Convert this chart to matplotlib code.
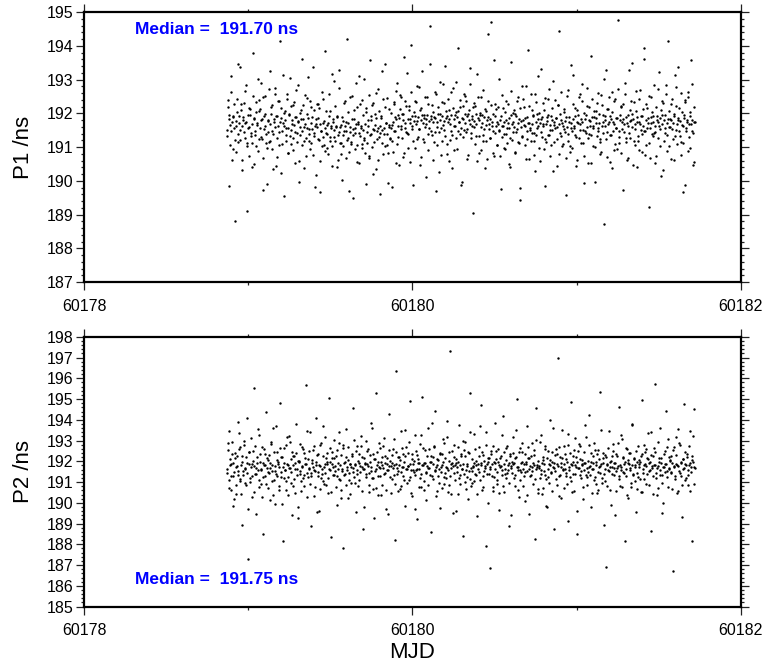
import matplotlib
matplotlib.use("Agg")
import matplotlib.pyplot as plt
from matplotlib.ticker import MultipleLocator, FormatStrFormatter

plt.rcParams['font.family'] = ['Liberation Sans', 'DejaVu Sans']

# ---------------- data ----------------
mjd = [
    60178.870, 60178.875, 60178.880, 60178.885, 60178.890, 60178.895, 60178.900, 60178.905, 60178.910, 60178.915,
    60178.920, 60178.925, 60178.930, 60178.935, 60178.940, 60178.945, 60178.950, 60178.955, 60178.960, 60178.965,
    60178.970, 60178.975, 60178.980, 60178.985, 60178.990, 60178.995, 60179.000, 60179.005, 60179.010, 60179.015,
    60179.020, 60179.025, 60179.030, 60179.035, 60179.040, 60179.045, 60179.050, 60179.055, 60179.060, 60179.065,
    60179.070, 60179.075, 60179.080, 60179.085, 60179.090, 60179.095, 60179.100, 60179.105, 60179.110, 60179.115,
    60179.120, 60179.125, 60179.130, 60179.135, 60179.140, 60179.145, 60179.150, 60179.155, 60179.160, 60179.165,
    60179.170, 60179.175, 60179.180, 60179.185, 60179.190, 60179.195, 60179.200, 60179.205, 60179.210, 60179.215,
    60179.220, 60179.225, 60179.230, 60179.235, 60179.240, 60179.245, 60179.250, 60179.255, 60179.260, 60179.265,
    60179.270, 60179.275, 60179.280, 60179.285, 60179.290, 60179.295, 60179.300, 60179.305, 60179.310, 60179.315,
    60179.320, 60179.325, 60179.330, 60179.335, 60179.340, 60179.345, 60179.350, 60179.355, 60179.360, 60179.365,
    60179.370, 60179.375, 60179.380, 60179.385, 60179.390, 60179.395, 60179.400, 60179.405, 60179.410, 60179.415,
    60179.420, 60179.425, 60179.430, 60179.435, 60179.440, 60179.445, 60179.450, 60179.455, 60179.460, 60179.465,
    60179.470, 60179.475, 60179.480, 60179.485, 60179.490, 60179.495, 60179.500, 60179.505, 60179.510, 60179.515,
    60179.520, 60179.525, 60179.530, 60179.535, 60179.540, 60179.545, 60179.550, 60179.555, 60179.560, 60179.565,
    60179.570, 60179.575, 60179.580, 60179.585, 60179.590, 60179.595, 60179.600, 60179.605, 60179.610, 60179.615,
    60179.620, 60179.625, 60179.630, 60179.635, 60179.640, 60179.645, 60179.650, 60179.655, 60179.660, 60179.665,
    60179.670, 60179.675, 60179.680, 60179.685, 60179.690, 60179.695, 60179.700, 60179.705, 60179.710, 60179.715,
    60179.720, 60179.725, 60179.730, 60179.735, 60179.740, 60179.745, 60179.750, 60179.755, 60179.760, 60179.765,
    60179.770, 60179.775, 60179.780, 60179.785, 60179.790, 60179.795, 60179.800, 60179.805, 60179.810, 60179.815,
    60179.820, 60179.825, 60179.830, 60179.835, 60179.840, 60179.845, 60179.850, 60179.855, 60179.860, 60179.865,
    60179.870, 60179.875, 60179.880, 60179.885, 60179.890, 60179.895, 60179.900, 60179.905, 60179.910, 60179.915,
    60179.920, 60179.925, 60179.930, 60179.935, 60179.940, 60179.945, 60179.950, 60179.955, 60179.960, 60179.965,
    60179.970, 60179.975, 60179.980, 60179.985, 60179.990, 60179.995, 60180.000, 60180.005, 60180.010, 60180.015,
    60180.020, 60180.025, 60180.030, 60180.035, 60180.040, 60180.045, 60180.050, 60180.055, 60180.060, 60180.065,
    60180.070, 60180.075, 60180.080, 60180.085, 60180.090, 60180.095, 60180.100, 60180.105, 60180.110, 60180.115,
    60180.120, 60180.125, 60180.130, 60180.135, 60180.140, 60180.145, 60180.150, 60180.155, 60180.160, 60180.165,
    60180.170, 60180.175, 60180.180, 60180.185, 60180.190, 60180.195, 60180.200, 60180.205, 60180.210, 60180.215,
    60180.220, 60180.225, 60180.230, 60180.235, 60180.240, 60180.245, 60180.250, 60180.255, 60180.260, 60180.265,
    60180.270, 60180.275, 60180.280, 60180.285, 60180.290, 60180.295, 60180.300, 60180.305, 60180.310, 60180.315,
    60180.320, 60180.325, 60180.330, 60180.335, 60180.340, 60180.345, 60180.350, 60180.355, 60180.360, 60180.365,
    60180.370, 60180.375, 60180.380, 60180.385, 60180.390, 60180.395, 60180.400, 60180.405, 60180.410, 60180.415,
    60180.420, 60180.425, 60180.430, 60180.435, 60180.440, 60180.445, 60180.450, 60180.455, 60180.460, 60180.465,
    60180.470, 60180.475, 60180.480, 60180.485, 60180.490, 60180.495, 60180.500, 60180.505, 60180.510, 60180.515,
    60180.520, 60180.525, 60180.530, 60180.535, 60180.540, 60180.545, 60180.550, 60180.555, 60180.560, 60180.565,
    60180.570, 60180.575, 60180.580, 60180.585, 60180.590, 60180.595, 60180.600, 60180.605, 60180.610, 60180.615,
    60180.620, 60180.625, 60180.630, 60180.635, 60180.640, 60180.645, 60180.650, 60180.655, 60180.660, 60180.665,
    60180.670, 60180.675, 60180.680, 60180.685, 60180.690, 60180.695, 60180.700, 60180.705, 60180.710, 60180.715,
    60180.720, 60180.725, 60180.730, 60180.735, 60180.740, 60180.745, 60180.750, 60180.755, 60180.760, 60180.765,
    60180.770, 60180.775, 60180.780, 60180.785, 60180.790, 60180.795, 60180.800, 60180.805, 60180.810, 60180.815,
    60180.820, 60180.825, 60180.830, 60180.835, 60180.840, 60180.845, 60180.850, 60180.855, 60180.860, 60180.865,
    60180.870, 60180.875, 60180.880, 60180.885, 60180.890, 60180.895, 60180.900, 60180.905, 60180.910, 60180.915,
    60180.920, 60180.925, 60180.930, 60180.935, 60180.940, 60180.945, 60180.950, 60180.955, 60180.960, 60180.965,
    60180.970, 60180.975, 60180.980, 60180.985, 60180.990, 60180.995, 60181.000, 60181.005, 60181.010, 60181.015,
    60181.020, 60181.025, 60181.030, 60181.035, 60181.040, 60181.045, 60181.050, 60181.055, 60181.060, 60181.065,
    60181.070, 60181.075, 60181.080, 60181.085, 60181.090, 60181.095, 60181.100, 60181.105, 60181.110, 60181.115,
    60181.120, 60181.125, 60181.130, 60181.135, 60181.140, 60181.145, 60181.150, 60181.155, 60181.160, 60181.165,
    60181.170, 60181.175, 60181.180, 60181.185, 60181.190, 60181.195, 60181.200, 60181.205, 60181.210, 60181.215,
    60181.220, 60181.225, 60181.230, 60181.235, 60181.240, 60181.245, 60181.250, 60181.255, 60181.260, 60181.265,
    60181.270, 60181.275, 60181.280, 60181.285, 60181.290, 60181.295, 60181.300, 60181.305, 60181.310, 60181.315,
    60181.320, 60181.325, 60181.330, 60181.335, 60181.340, 60181.345, 60181.350, 60181.355, 60181.360, 60181.365,
    60181.370, 60181.375, 60181.380, 60181.385, 60181.390, 60181.395, 60181.400, 60181.405, 60181.410, 60181.415,
    60181.420, 60181.425, 60181.430, 60181.435, 60181.440, 60181.445, 60181.450, 60181.455, 60181.460, 60181.465,
    60181.470, 60181.475, 60181.480, 60181.485, 60181.490, 60181.495, 60181.500, 60181.505, 60181.510, 60181.515,
    60181.520, 60181.525, 60181.530, 60181.535, 60181.540, 60181.545, 60181.550, 60181.555, 60181.560, 60181.565,
    60181.570, 60181.575, 60181.580, 60181.585, 60181.590, 60181.595, 60181.600, 60181.605, 60181.610, 60181.615,
    60181.620, 60181.625, 60181.630, 60181.635, 60181.640, 60181.645, 60181.650, 60181.655, 60181.660, 60181.665,
    60181.670, 60181.675, 60181.680, 60181.685, 60181.690, 60181.695, 60181.700, 60181.705, 60181.710, 60181.715,
    60181.720,
    60178.8725, 60178.8775, 60178.8825, 60178.8875, 60178.8925, 60178.8975, 60178.9025, 60178.9075, 60178.9125, 60178.9175,
    60178.9225, 60178.9275, 60178.9325, 60178.9375, 60178.9425, 60178.9475, 60178.9525, 60178.9575, 60178.9625, 60178.9675,
    60178.9725, 60178.9775, 60178.9825, 60178.9875, 60178.9925, 60178.9975, 60179.0025, 60179.0075, 60179.0125, 60179.0175,
    60179.0225, 60179.0275, 60179.0325, 60179.0375, 60179.0425, 60179.0475, 60179.0525, 60179.0575, 60179.0625, 60179.0675,
    60179.0725, 60179.0775, 60179.0825, 60179.0875, 60179.0925, 60179.0975, 60179.1025, 60179.1075, 60179.1125, 60179.1175,
    60179.1225, 60179.1275, 60179.1325, 60179.1375, 60179.1425, 60179.1475, 60179.1525, 60179.1575, 60179.1625, 60179.1675,
    60179.1725, 60179.1775, 60179.1825, 60179.1875, 60179.1925, 60179.1975, 60179.2025, 60179.2075, 60179.2125, 60179.2175,
    60179.2225, 60179.2275, 60179.2325, 60179.2375, 60179.2425, 60179.2475, 60179.2525, 60179.2575, 60179.2625, 60179.2675,
    60179.2725, 60179.2775, 60179.2825, 60179.2875, 60179.2925, 60179.2975, 60179.3025, 60179.3075, 60179.3125, 60179.3175,
    60179.3225, 60179.3275, 60179.3325, 60179.3375, 60179.3425, 60179.3475, 60179.3525, 60179.3575, 60179.3625, 60179.3675,
    60179.3725, 60179.3775, 60179.3825, 60179.3875, 60179.3925, 60179.3975, 60179.4025, 60179.4075, 60179.4125, 60179.4175,
    60179.4225, 60179.4275, 60179.4325, 60179.4375, 60179.4425, 60179.4475, 60179.4525, 60179.4575, 60179.4625, 60179.4675,
    60179.4725, 60179.4775, 60179.4825, 60179.4875, 60179.4925, 60179.4975, 60179.5025, 60179.5075, 60179.5125, 60179.5175,
    60179.5225, 60179.5275, 60179.5325, 60179.5375, 60179.5425, 60179.5475, 60179.5525, 60179.5575, 60179.5625, 60179.5675,
    60179.5725, 60179.5775, 60179.5825, 60179.5875, 60179.5925, 60179.5975, 60179.6025, 60179.6075, 60179.6125, 60179.6175,
    60179.6225, 60179.6275, 60179.6325, 60179.6375, 60179.6425, 60179.6475, 60179.6525, 60179.6575, 60179.6625, 60179.6675,
    60179.6725, 60179.6775, 60179.6825, 60179.6875, 60179.6925, 60179.6975, 60179.7025, 60179.7075, 60179.7125, 60179.7175,
    60179.7225, 60179.7275, 60179.7325, 60179.7375, 60179.7425, 60179.7475, 60179.7525, 60179.7575, 60179.7625, 60179.7675,
    60179.7725, 60179.7775, 60179.7825, 60179.7875, 60179.7925, 60179.7975, 60179.8025, 60179.8075, 60179.8125, 60179.8175,
    60179.8225, 60179.8275, 60179.8325, 60179.8375, 60179.8425, 60179.8475, 60179.8525, 60179.8575, 60179.8625, 60179.8675,
    60179.8725, 60179.8775, 60179.8825, 60179.8875, 60179.8925, 60179.8975, 60179.9025, 60179.9075, 60179.9125, 60179.9175,
    60179.9225, 60179.9275, 60179.9325, 60179.9375, 60179.9425, 60179.9475, 60179.9525, 60179.9575, 60179.9625, 60179.9675,
    60179.9725, 60179.9775, 60179.9825, 60179.9875, 60179.9925, 60179.9975, 60180.0025, 60180.0075, 60180.0125, 60180.0175,
    60180.0225, 60180.0275, 60180.0325, 60180.0375, 60180.0425, 60180.0475, 60180.0525, 60180.0575, 60180.0625, 60180.0675,
    60180.0725, 60180.0775, 60180.0825, 60180.0875, 60180.0925, 60180.0975, 60180.1025, 60180.1075, 60180.1125, 60180.1175,
    60180.1225, 60180.1275, 60180.1325, 60180.1375, 60180.1425, 60180.1475, 60180.1525, 60180.1575, 60180.1625, 60180.1675,
    60180.1725, 60180.1775, 60180.1825, 60180.1875, 60180.1925, 60180.1975, 60180.2025, 60180.2075, 60180.2125, 60180.2175,
    60180.2225, 60180.2275, 60180.2325, 60180.2375, 60180.2425, 60180.2475, 60180.2525, 60180.2575, 60180.2625, 60180.2675,
    60180.2725, 60180.2775, 60180.2825, 60180.2875, 60180.2925, 60180.2975, 60180.3025, 60180.3075, 60180.3125, 60180.3175,
    60180.3225, 60180.3275, 60180.3325, 60180.3375, 60180.3425, 60180.3475, 60180.3525, 60180.3575, 60180.3625, 60180.3675,
    60180.3725, 60180.3775, 60180.3825, 60180.3875, 60180.3925, 60180.3975, 60180.4025, 60180.4075, 60180.4125, 60180.4175,
    60180.4225, 60180.4275, 60180.4325, 60180.4375, 60180.4425, 60180.4475, 60180.4525, 60180.4575, 60180.4625, 60180.4675,
    60180.4725, 60180.4775, 60180.4825, 60180.4875, 60180.4925, 60180.4975, 60180.5025, 60180.5075, 60180.5125, 60180.5175,
    60180.5225, 60180.5275, 60180.5325, 60180.5375, 60180.5425, 60180.5475, 60180.5525, 60180.5575, 60180.5625, 60180.5675,
    60180.5725, 60180.5775, 60180.5825, 60180.5875, 60180.5925, 60180.5975, 60180.6025, 60180.6075, 60180.6125, 60180.6175,
    60180.6225, 60180.6275, 60180.6325, 60180.6375, 60180.6425, 60180.6475, 60180.6525, 60180.6575, 60180.6625, 60180.6675,
    60180.6725, 60180.6775, 60180.6825, 60180.6875, 60180.6925, 60180.6975, 60180.7025, 60180.7075, 60180.7125, 60180.7175,
    60180.7225, 60180.7275, 60180.7325, 60180.7375, 60180.7425, 60180.7475, 60180.7525, 60180.7575, 60180.7625, 60180.7675,
    60180.7725, 60180.7775, 60180.7825, 60180.7875, 60180.7925, 60180.7975, 60180.8025, 60180.8075, 60180.8125, 60180.8175,
    60180.8225, 60180.8275, 60180.8325, 60180.8375, 60180.8425, 60180.8475, 60180.8525, 60180.8575, 60180.8625, 60180.8675,
    60180.8725, 60180.8775, 60180.8825, 60180.8875, 60180.8925, 60180.8975, 60180.9025, 60180.9075, 60180.9125, 60180.9175,
    60180.9225, 60180.9275, 60180.9325, 60180.9375, 60180.9425, 60180.9475, 60180.9525, 60180.9575, 60180.9625, 60180.9675,
    60180.9725, 60180.9775, 60180.9825, 60180.9875, 60180.9925, 60180.9975, 60181.0025, 60181.0075, 60181.0125, 60181.0175,
    60181.0225, 60181.0275, 60181.0325, 60181.0375, 60181.0425, 60181.0475, 60181.0525, 60181.0575, 60181.0625, 60181.0675,
    60181.0725, 60181.0775, 60181.0825, 60181.0875, 60181.0925, 60181.0975, 60181.1025, 60181.1075, 60181.1125, 60181.1175,
    60181.1225, 60181.1275, 60181.1325, 60181.1375, 60181.1425, 60181.1475, 60181.1525, 60181.1575, 60181.1625, 60181.1675,
    60181.1725, 60181.1775, 60181.1825, 60181.1875, 60181.1925, 60181.1975, 60181.2025, 60181.2075, 60181.2125, 60181.2175,
    60181.2225, 60181.2275, 60181.2325, 60181.2375, 60181.2425, 60181.2475, 60181.2525, 60181.2575, 60181.2625, 60181.2675,
    60181.2725, 60181.2775, 60181.2825, 60181.2875, 60181.2925, 60181.2975, 60181.3025, 60181.3075, 60181.3125, 60181.3175,
    60181.3225, 60181.3275, 60181.3325, 60181.3375, 60181.3425, 60181.3475, 60181.3525, 60181.3575, 60181.3625, 60181.3675,
    60181.3725, 60181.3775, 60181.3825, 60181.3875, 60181.3925, 60181.3975, 60181.4025, 60181.4075, 60181.4125, 60181.4175,
    60181.4225, 60181.4275, 60181.4325, 60181.4375, 60181.4425, 60181.4475, 60181.4525, 60181.4575, 60181.4625, 60181.4675,
    60181.4725, 60181.4775, 60181.4825, 60181.4875, 60181.4925, 60181.4975, 60181.5025, 60181.5075, 60181.5125, 60181.5175,
    60181.5225, 60181.5275, 60181.5325, 60181.5375, 60181.5425, 60181.5475, 60181.5525, 60181.5575, 60181.5625, 60181.5675,
    60181.5725, 60181.5775, 60181.5825, 60181.5875, 60181.5925, 60181.5975, 60181.6025, 60181.6075, 60181.6125, 60181.6175,
    60181.6225, 60181.6275, 60181.6325, 60181.6375, 60181.6425, 60181.6475, 60181.6525, 60181.6575, 60181.6625, 60181.6675,
    60181.6725, 60181.6775, 60181.6825, 60181.6875, 60181.6925, 60181.6975, 60181.7025, 60181.7075, 60181.7125, 60181.7175,
]

p1_ns = [
    191.52, 192.41, 191.83, 189.84, 191.66, 193.12, 191.74, 190.95, 191.91, 191.58,
    188.82, 191.77, 192.05, 191.39, 193.46, 191.70, 191.21, 192.28, 191.64, 190.62,
    191.88, 191.45, 192.66, 191.73, 191.12, 189.12, 191.95, 191.60, 192.14, 191.33,
    190.41, 191.69, 193.78, 191.84, 191.47, 192.33, 191.02, 191.71, 190.88, 192.07,
    191.56, 192.91, 191.79, 191.25, 189.73, 191.92, 191.63, 192.52, 191.38, 190.97,
    191.81, 191.14, 193.24, 191.67, 192.19, 191.48, 190.36, 191.75, 192.74, 191.59,
    191.93, 190.71, 191.62, 192.37, 191.44, 194.13, 191.86, 191.09, 191.70, 192.02,
    189.55, 191.79, 191.35, 192.58, 191.58, 190.84, 191.97, 193.05, 191.52, 191.81,
    191.27, 192.24, 191.66, 190.52, 191.90, 191.43, 192.85, 191.74, 189.96, 191.61,
    192.11, 191.48, 193.62, 191.83, 191.19, 191.68, 190.73, 192.45, 191.57, 191.86,
    191.40, 190.93, 191.71, 192.19, 191.55, 193.37, 191.34, 191.63, 190.18, 191.82,
    191.59, 192.27, 191.22, 191.68, 189.67, 191.48, 192.64, 191.71, 191.05, 191.57,
    193.84, 191.41, 191.66, 190.79, 191.93, 191.30, 192.08, 191.62, 190.44, 191.74,
    191.52, 192.96, 191.17, 191.64, 191.88, 190.61, 191.45, 193.29, 191.59, 191.11,
    190.02, 191.78, 191.36, 192.31, 191.63, 191.49, 194.21, 191.27, 191.70, 190.86,
    191.61, 191.08, 192.52, 191.55, 189.48, 191.83, 191.42, 191.67, 192.18, 190.57,
    191.74, 193.11, 191.33, 191.58, 190.97, 192.39, 191.52, 191.20, 191.69, 189.91,
    192.03, 191.46, 191.62, 190.69, 193.57, 191.79, 191.38, 192.26, 191.55, 191.14,
    191.66, 190.35, 191.85, 191.47, 192.71, 191.29, 189.61, 191.63, 191.92, 191.51,
    192.44, 191.58, 191.02, 193.45, 191.71, 191.39, 190.83, 191.66, 192.12, 191.24,
    191.57, 189.82, 191.74, 192.35, 191.49, 191.88, 190.54, 192.89, 191.63, 191.31,
    191.86, 192.53, 191.64, 191.97, 190.71, 191.79, 193.68, 191.58, 192.21, 191.42,
    190.96, 191.83, 192.09, 191.71, 194.02, 191.55, 191.92, 189.88, 191.76, 192.38,
    191.67, 191.24, 192.81, 191.89, 191.53, 190.47, 191.81, 192.15, 193.26, 191.70,
    191.95, 191.61, 190.12, 191.84, 192.47, 191.38, 191.77, 194.58, 191.91, 191.49,
    192.26, 191.73, 191.16, 192.64, 191.86, 189.69, 191.59, 191.98, 191.44, 192.93,
    191.80, 190.78, 191.93, 191.65, 192.32, 191.51, 193.41, 191.87, 191.08, 191.74,
    190.58, 192.11, 191.69, 191.96, 191.37, 192.76, 191.82, 190.91, 191.63, 192.04,
    191.89, 191.47, 193.94, 191.75, 192.19, 191.58, 189.97, 191.84, 191.29, 192.57,
    191.71, 192.38, 191.55, 190.66, 191.99, 191.81, 192.87, 191.43, 191.93, 191.62,
    189.04, 191.77, 192.22, 191.68, 191.34, 193.18, 191.85, 190.82, 191.96, 191.59,
    192.49, 191.72, 191.18, 191.88, 190.39, 191.66, 192.07, 191.80, 194.36, 191.53,
    191.84, 191.26, 194.72, 191.74, 191.48, 190.74, 191.91, 192.29, 191.63, 191.07,
    191.69, 193.03, 191.52, 191.81, 189.76, 191.64, 192.15, 191.39, 191.75, 190.93,
    192.36, 191.58, 191.72, 190.51, 191.86, 191.27, 193.52, 191.68, 191.45, 192.02,
    191.61, 190.84, 191.93, 191.54, 192.47, 191.71, 191.12, 189.43, 191.77, 192.81,
    191.33, 191.79, 192.19, 191.62, 190.66, 191.88, 191.49, 193.87, 191.70, 191.58,
    192.58, 191.41, 191.67, 191.95, 191.19, 190.28, 191.74, 192.33, 191.56, 191.83,
    190.97, 191.72, 193.31, 191.46, 191.89, 191.63, 192.11, 191.24, 189.86, 191.69,
    191.78, 192.44, 191.35, 191.66, 190.73, 191.92, 191.51, 192.97, 191.74, 191.15,
    191.57, 191.86, 190.44, 192.26, 191.69, 194.45, 191.43, 191.81, 191.02, 191.64,
    192.05, 191.53, 191.77, 189.58, 191.60, 192.68, 191.38, 191.90, 190.86, 191.72,
    191.47, 193.14, 191.84, 191.58, 192.17, 191.29, 190.61, 191.75, 191.96, 192.49,
    191.68, 191.11, 191.73, 192.87, 191.52, 189.95, 191.83, 191.41, 192.23, 191.61,
    190.52, 191.79, 191.64, 191.35, 193.71, 191.88, 191.57, 192.08, 190.99, 191.72,
    191.86, 192.31, 191.49, 191.70, 191.23, 190.79, 192.55, 191.63, 191.94, 188.71,
    191.62, 191.81, 193.28, 191.44, 192.14, 191.75, 190.57, 191.91, 191.36, 192.62,
    191.74, 190.92, 191.67, 192.43, 191.58, 191.87, 194.78, 191.49, 191.13, 191.79,
    192.22, 191.55, 189.74, 191.83, 191.68, 192.91, 191.27, 191.72, 190.68, 191.95,
    191.41, 191.76, 192.37, 191.60, 193.49, 191.84, 191.18, 191.69, 192.06, 190.41,
    191.88, 191.33, 191.74, 192.69, 191.52, 190.86, 191.93, 191.64, 193.95, 191.47,
    191.07, 191.81, 192.17, 191.70, 189.23, 191.56, 192.48, 191.89, 191.38, 191.73,
    192.84, 191.62, 191.45, 190.74, 191.92, 191.75, 193.22, 191.53, 191.86, 192.11,
    191.67, 190.31, 191.79, 191.96, 191.42, 192.58, 191.71, 194.15, 191.59, 191.02,
    191.83, 192.27, 191.55, 191.72, 190.63, 191.91, 191.34, 192.79, 191.68, 191.80,
    193.36, 191.49, 191.77, 191.15, 192.03, 191.63, 189.66, 191.87, 192.41, 191.57,
    191.74, 190.88, 192.63, 191.69, 191.93, 193.58, 191.48, 191.81, 190.48, 192.18,
    191.73,
    191.34, 192.18, 191.96, 191.07, 192.63, 191.49, 190.61, 191.88, 192.27, 191.21,
    191.63, 190.87, 192.44, 191.15, 191.92, 193.38, 191.52, 192.09, 190.33, 191.79,
    192.31, 191.26, 191.71, 192.85, 191.03, 191.58, 192.16, 190.74, 191.94, 191.42,
    191.11, 192.52, 190.49, 191.86, 191.37, 192.04, 191.65, 193.01, 191.23, 192.39,
    192.12, 191.31, 191.84, 190.68, 192.47, 191.55, 191.98, 191.13, 189.92, 191.76,
    191.45, 192.71, 191.17, 191.99, 190.95, 192.26, 191.39, 191.82, 192.58, 190.43,
    191.28, 191.91, 192.36, 191.06, 191.73, 190.22, 192.15, 191.47, 193.14, 191.64,
    192.07, 191.19, 191.57, 192.42, 190.82, 191.95, 191.33, 192.21, 191.09, 191.69,
    190.91, 192.33, 191.44, 191.88, 192.69, 191.14, 191.76, 190.58, 192.02, 191.36,
    191.83, 191.05, 192.24, 190.37, 191.61, 192.54, 191.27, 191.97, 193.08, 191.18,
    191.54, 192.38, 191.12, 191.89, 190.76, 192.11, 191.43, 189.83, 191.68, 192.29,
    191.23, 191.86, 192.15, 190.59, 191.47, 191.04, 192.43, 191.31, 191.77, 190.88,
    192.06, 191.38, 190.97, 191.71, 192.57, 191.19, 191.56, 193.16, 191.02, 191.83,
    191.29, 192.22, 191.61, 190.41, 191.93, 191.35, 192.74, 191.12, 191.66, 190.79,
    191.88, 191.03, 191.49, 192.36, 190.69, 191.74, 191.22, 192.03, 189.71, 191.45,
    192.48, 191.16, 191.82, 191.37, 192.11, 190.93, 191.58, 192.89, 191.07, 191.69,
    191.42, 190.52, 192.27, 191.63, 191.09, 191.95, 193.03, 191.28, 190.84, 192.17,
    191.13, 191.79, 190.74, 192.54, 191.36, 191.91, 191.01, 190.19, 192.32, 191.52,
    191.97, 192.61, 191.24, 191.58, 190.63, 192.08, 191.43, 191.85, 191.11, 193.24,
    190.81, 191.39, 192.19, 191.72, 191.05, 192.46, 189.94, 191.61, 191.27, 192.01,
    191.66, 191.18, 190.86, 192.29, 191.49, 191.83, 192.67, 191.09, 191.94, 190.47,
    192.14, 191.53, 192.47, 191.28, 191.99, 190.83, 191.71, 192.36, 191.46, 193.19,
    191.39, 192.21, 191.84, 190.56, 192.62, 191.62, 191.17, 192.05, 191.93, 190.98,
    192.34, 191.77, 191.31, 192.78, 191.54, 192.11, 190.72, 191.96, 191.25, 191.87,
    191.14, 192.49, 191.68, 191.95, 190.91, 192.27, 191.58, 193.46, 191.82, 191.36,
    192.03, 190.63, 191.89, 191.44, 192.56, 191.73, 191.07, 192.19, 190.25, 191.97,
    191.56, 192.35, 191.19, 192.87, 191.78, 191.34, 192.08, 190.81, 191.91, 192.44,
    191.83, 191.22, 192.64, 191.49, 190.39, 192.16, 191.64, 191.95, 192.93, 191.28,
    190.94, 192.07, 191.75, 191.38, 192.41, 189.88, 191.86, 192.23, 191.51, 191.99,
    192.52, 191.44, 191.91, 190.77, 192.09, 191.67, 193.33, 191.26, 191.84, 192.19,
    191.61, 192.31, 191.08, 191.97, 190.58, 192.48, 191.79, 191.32, 192.01, 190.92,
    191.94, 191.37, 192.69, 191.55, 192.14, 191.18, 190.66, 191.88, 192.37, 191.69,
    191.26, 192.25, 191.63, 190.84, 191.99, 193.57, 191.42, 192.12, 191.74, 191.05,
    192.18, 191.47, 190.73, 191.91, 191.29, 192.53, 191.62, 190.96, 192.04, 191.38,
    191.79, 191.12, 192.29, 191.56, 190.42, 191.94, 192.66, 191.21, 191.73, 192.09,
    190.87, 191.98, 191.44, 192.37, 191.16, 191.82, 189.79, 192.15, 191.59, 191.31,
    192.44, 191.66, 191.07, 191.87, 192.82, 191.25, 191.71, 190.64, 192.23, 191.52,
    191.18, 192.11, 191.92, 190.76, 191.43, 192.58, 191.36, 191.97, 193.11, 191.64,
    192.02, 190.59, 191.83, 191.29, 192.31, 191.68, 190.93, 192.46, 191.14, 191.89,
    191.37, 191.94, 192.72, 191.51, 191.06, 191.81, 192.17, 190.28, 191.65, 192.39,
    191.86, 191.23, 191.59, 192.24, 190.81, 191.97, 191.33, 192.63, 191.72, 191.09,
    192.13, 191.46, 190.67, 191.88, 192.51, 191.19, 191.75, 191.02, 193.42, 191.57,
    190.98, 192.27, 191.64, 191.35, 191.93, 190.44, 192.09, 191.71, 191.26, 192.56,
    191.52, 191.83, 192.38, 191.11, 190.73, 192.01, 191.47, 191.94, 192.74, 191.28,
    192.19, 191.39, 191.76, 190.53, 192.42, 191.62, 191.04, 191.89, 189.97, 192.07,
    191.33, 192.61, 191.58, 191.97, 191.15, 190.86, 192.26, 191.73, 191.41, 193.02,
    191.91, 191.24, 192.14, 190.71, 191.67, 192.49, 191.36, 191.82, 192.03, 190.39,
    191.47, 192.36, 191.09, 191.85, 191.58, 190.94, 192.71, 191.31, 191.96, 192.18,
    190.82, 191.73, 192.28, 191.44, 192.57, 191.16, 191.89, 190.62, 191.62, 193.27,
    192.09, 191.27, 191.81, 191.98, 190.48, 192.34, 191.53, 191.07, 192.66, 191.74,
    191.19, 192.43, 190.91, 191.67, 191.93, 191.38, 192.12, 193.61, 191.49, 190.76,
    192.27, 191.58, 191.86, 191.13, 192.52, 190.68, 191.71, 192.04, 191.34, 191.92,
    191.43, 190.53, 192.19, 191.81, 191.26, 192.73, 191.64, 191.02, 190.14, 192.36,
    191.95, 192.31, 191.18, 191.56, 192.84, 191.37, 190.89, 191.83, 192.08, 191.61,
    190.64, 191.79, 192.42, 191.23, 191.97, 193.14, 191.52, 192.21, 191.09, 191.86,
    192.16, 191.34, 190.77, 192.59, 191.66, 191.12, 191.94, 189.87, 192.33, 191.48,
    191.81, 192.47, 191.29, 190.96, 192.05, 191.69, 192.88, 191.42, 191.73, 190.57,
]

p2_ns = [
    191.62, 192.88, 190.71, 193.45, 191.80, 191.27, 192.34, 189.86, 191.93, 191.48,
    192.15, 190.42, 191.77, 193.91, 191.36, 192.61, 191.05, 191.84, 188.94, 192.27,
    191.53, 192.96, 191.69, 190.88, 194.07, 191.94, 187.31, 192.43, 191.18, 191.75,
    190.29, 191.87, 192.52, 195.52, 191.41, 191.70, 189.47, 192.19, 191.58, 193.28,
    191.96, 190.93, 191.63, 192.71, 188.52, 191.82, 192.35, 191.29, 194.36, 191.67,
    192.08, 191.44, 190.16, 191.91, 192.84, 191.55, 193.63, 191.12, 191.78, 189.93,
    191.39, 192.47, 191.85, 190.64, 191.72, 194.82, 191.26, 192.19, 188.17, 191.90,
    192.63, 191.58, 191.04, 193.17, 191.81, 190.37, 191.66, 192.92, 191.49, 189.39,
    191.83, 190.81, 192.26, 191.63, 193.82, 191.35, 192.04, 189.78, 191.97, 191.52,
    190.58, 192.71, 191.74, 191.21, 192.38, 191.88, 195.68, 191.46, 190.27, 192.13,
    191.69, 193.39, 191.31, 188.86, 191.92, 192.55, 191.57, 190.74, 191.83, 194.11,
    192.29, 191.48, 189.63, 191.76, 192.81, 191.19, 191.64, 193.71, 190.92, 191.87,
    191.42, 192.17, 191.89, 190.48, 195.07, 191.58, 191.97, 188.34, 192.46, 191.71,
    193.04, 191.33, 191.78, 192.28, 189.91, 191.62, 192.89, 191.15, 191.84, 190.63,
    191.55, 192.64, 187.82, 191.93, 191.39, 193.56, 191.72, 190.21, 192.07, 191.46,
    191.86, 190.97, 192.36, 191.67, 194.58, 191.24, 191.81, 189.54, 192.73, 191.59,
    190.79, 191.94, 191.48, 193.22, 191.71, 192.21, 188.73, 191.63, 191.87, 192.98,
    191.37, 192.49, 191.79, 190.54, 191.95, 193.87, 191.52, 191.18, 192.33, 189.28,
    192.12, 191.61, 195.31, 191.83, 190.36, 191.74, 192.62, 191.29, 191.96, 190.84,
    191.68, 193.13, 191.44, 192.27, 189.71, 191.89, 191.56, 194.29, 191.78, 192.04,
    190.47, 191.92, 192.58, 191.35, 191.81, 188.21, 196.34, 191.66, 192.19, 191.53,
    191.84, 190.69, 193.48, 191.73, 192.36, 191.28, 191.97, 189.83, 192.71, 191.61,
    192.41, 191.76, 191.09, 194.93, 191.58, 192.13, 190.32, 191.88, 191.47, 193.26,
    191.59, 189.22, 192.29, 191.94, 191.63, 192.84, 191.37, 190.76, 195.12, 191.82,
    191.93, 192.56, 191.45, 190.13, 191.78, 193.59, 191.66, 191.99, 188.61, 192.24,
    191.31, 191.87, 192.69, 191.54, 194.42, 191.72, 190.58, 192.05, 191.61, 189.74,
    192.37, 191.49, 191.83, 193.07, 191.26, 190.91, 192.18, 191.75, 193.94, 191.58,
    190.87, 192.44, 197.31, 191.68, 191.92, 189.51, 192.79, 191.43, 191.81, 192.12,
    191.72, 190.43, 191.95, 193.74, 191.36, 192.28, 191.64, 188.41, 191.89, 192.53,
    192.91, 191.57, 191.24, 191.86, 190.18, 192.39, 195.28, 191.69, 191.52, 190.96,
    191.78, 193.31, 191.41, 192.02, 191.83, 189.36, 191.65, 192.67, 191.11, 194.71,
    191.94, 190.62, 192.32, 191.55, 191.76, 193.42, 187.94, 191.87, 192.16, 191.38,
    186.84, 191.73, 192.48, 191.29, 190.74, 191.96, 193.83, 191.62, 192.09, 191.47,
    192.59, 191.82, 189.67, 191.71, 192.26, 191.34, 194.18, 191.88, 190.51, 191.64,
    191.18, 192.74, 191.59, 191.93, 188.89, 192.37, 191.76, 191.42, 193.16, 191.85,
    191.91, 190.83, 192.21, 195.02, 191.57, 191.74, 190.29, 192.62, 191.48, 191.97,
    192.43, 191.65, 191.27, 190.07, 191.88, 193.69, 191.53, 192.14, 189.48, 191.79,
    191.36, 192.87, 191.72, 191.94, 192.31, 188.28, 191.61, 194.57, 191.84, 190.69,
    191.77, 191.19, 193.28, 191.56, 190.42, 192.08, 191.89, 191.33, 192.72, 189.87,
    192.16, 191.64, 190.95, 191.81, 193.97, 191.47, 192.43, 191.71, 188.76, 191.92,
    191.53, 192.61, 191.86, 196.98, 191.28, 190.34, 192.19, 191.75, 193.52, 191.62,
    190.72, 191.89, 192.34, 191.46, 191.97, 189.14, 192.81, 191.58, 191.23, 194.86,
    191.84, 192.27, 191.39, 190.58, 193.14, 191.73, 191.96, 188.52, 192.48, 191.67,
    192.73, 191.54, 191.82, 192.06, 190.19, 191.91, 193.76, 191.35, 191.68, 190.88,
    191.49, 194.23, 191.77, 189.79, 192.39, 191.63, 191.92, 192.88, 191.26, 191.81,
    191.96, 190.46, 192.53, 191.71, 191.42, 195.36, 191.85, 190.97, 192.14, 188.92,
    191.63, 192.32, 186.93, 191.88, 191.57, 193.44, 191.74, 190.61, 192.01, 191.39,
    192.85, 191.68, 191.93, 189.42, 191.52, 192.26, 191.79, 194.64, 191.31, 190.83,
    191.71, 193.06, 191.47, 192.17, 191.86, 188.18, 191.64, 192.59, 191.94, 190.25,
    192.38, 191.58, 190.76, 191.83, 193.81, 191.36, 192.09, 191.72, 189.56, 191.97,
    191.44, 192.74, 191.89, 191.15, 192.27, 190.52, 194.96, 191.61, 191.83, 192.45,
    190.93, 191.76, 192.18, 193.37, 191.52, 191.95, 188.64, 192.31, 191.67, 191.28,
    192.62, 191.84, 195.71, 191.43, 190.37, 191.79, 192.14, 191.58, 193.63, 191.91,
    191.35, 189.97, 191.72, 192.48, 191.86, 194.41, 191.53, 190.78, 192.22, 191.66,
    192.05, 191.47, 191.93, 186.72, 192.67, 191.71, 191.28, 193.18, 191.84, 190.59,
    191.76, 192.89, 191.42, 191.97, 189.31, 192.13, 191.65, 194.78, 191.89, 191.22,
    192.34, 191.58, 190.86, 191.81, 193.46, 191.73, 188.17, 192.26, 191.95, 194.52,
    191.68,
    191.42, 192.56, 191.08, 192.13, 190.64, 191.89, 192.91, 191.27, 190.18, 192.38,
    191.71, 190.86, 192.24, 191.53, 193.36, 191.16, 192.67, 190.43, 191.98, 191.34,
    192.81, 191.61, 190.97, 192.19, 191.45, 189.68, 192.47, 191.87, 191.02, 193.12,
    191.29, 192.04, 191.78, 190.51, 192.73, 191.39, 191.94, 193.58, 191.12, 190.77,
    192.36, 191.57, 190.26, 191.92, 191.23, 192.58, 191.84, 190.92, 192.17, 191.49,
    190.71, 192.29, 191.66, 192.93, 191.07, 191.81, 190.38, 192.44, 191.55, 193.71,
    192.07, 191.31, 191.97, 190.83, 192.62, 191.48, 192.21, 189.94, 191.73, 191.18,
    191.58, 192.77, 190.62, 191.86, 191.26, 193.24, 191.69, 192.11, 190.94, 192.46,
    192.27, 191.14, 191.92, 190.45, 192.39, 191.63, 189.27, 192.02, 191.37, 192.84,
    191.03, 191.76, 192.58, 191.35, 190.79, 192.16, 191.88, 193.47, 191.24, 191.61,
    192.51, 190.93, 191.44, 192.08, 191.71, 190.34, 192.72, 191.52, 191.96, 189.58,
    191.27, 192.34, 191.83, 190.69, 192.89, 191.41, 191.06, 192.25, 191.74, 193.18,
    190.88, 191.97, 192.42, 191.19, 191.65, 192.63, 190.51, 191.85, 192.14, 191.33,
    192.18, 191.52, 190.76, 192.57, 191.29, 191.91, 193.41, 191.08, 192.31, 190.23,
    191.64, 192.81, 191.35, 191.98, 190.87, 192.23, 191.57, 192.69, 191.12, 191.89,
    190.42, 191.73, 192.26, 191.47, 193.04, 191.86, 190.97, 192.48, 191.38, 192.03,
    192.35, 191.09, 191.79, 192.74, 190.58, 191.63, 192.17, 189.81, 191.94, 191.26,
    191.86, 192.61, 191.43, 190.84, 192.29, 191.72, 193.62, 191.18, 190.67, 192.09,
    191.54, 190.73, 192.43, 191.96, 191.31, 192.86, 191.67, 190.39, 192.21, 191.83,
    192.72, 191.37, 191.91, 190.62, 192.14, 191.58, 189.47, 192.53, 191.24, 191.79,
    191.17, 192.31, 191.68, 193.08, 190.91, 191.85, 192.47, 191.41, 190.56, 192.19,
    192.06, 191.49, 190.82, 192.64, 191.73, 191.11, 192.28, 193.53, 191.62, 190.94,
    191.77, 192.93, 191.26, 191.89, 190.49, 192.37, 191.58, 192.02, 191.34, 189.72,
    192.49, 191.63, 192.11, 190.78, 191.94, 191.22, 193.27, 191.81, 192.66, 191.07,
    190.63, 191.91, 191.47, 192.24, 191.69, 190.88, 192.58, 191.36, 191.97, 193.84,
    192.21, 191.14, 192.76, 191.58, 190.33, 191.83, 192.09, 191.27, 190.96, 192.42,
    191.72, 192.37, 190.71, 191.95, 192.86, 191.43, 191.18, 193.16, 191.67, 190.52,
    192.04, 191.31, 191.86, 190.44, 192.51, 191.76, 192.19, 191.09, 189.63, 191.93,
    191.48, 192.68, 191.22, 191.84, 190.92, 192.33, 191.61, 192.97, 191.39, 191.02,
    192.27, 190.66, 191.79, 192.43, 191.54, 193.39, 191.16, 190.83, 192.12, 191.71,
    191.06, 191.94, 192.59, 191.32, 190.41, 191.87, 192.24, 191.49, 193.71, 191.83,
    192.46, 191.28, 190.74, 192.02, 191.69, 192.81, 191.41, 189.97, 191.96, 192.18,
    191.63, 192.37, 191.88, 190.58, 192.73, 191.24, 191.93, 192.52, 191.12, 190.89,
    191.95, 190.47, 192.16, 191.77, 193.29, 191.56, 190.82, 192.44, 191.38, 192.07,
    192.62, 191.43, 191.81, 190.96, 192.28, 191.67, 189.42, 191.99, 192.39, 191.21,
    191.34, 192.18, 193.52, 191.73, 190.63, 192.47, 191.58, 191.09, 191.92, 192.86,
    190.79, 191.86, 192.33, 191.47, 191.98, 190.37, 192.69, 191.61, 192.14, 191.27,
    192.27, 191.52, 190.93, 192.57, 191.84, 191.17, 193.04, 191.71, 190.48, 192.03,
    191.66, 192.91, 191.38, 191.94, 190.71, 192.22, 191.53, 192.61, 191.13, 189.79,
    192.48, 191.23, 191.87, 192.06, 191.45, 190.58, 191.96, 193.61, 191.69, 192.31,
    191.14, 192.37, 190.86, 191.79, 192.67, 191.32, 191.91, 190.24, 192.18, 191.57,
    192.72, 191.63, 192.09, 191.28, 190.92, 193.34, 191.74, 192.41, 191.06, 191.88,
    190.54, 191.97, 192.53, 191.41, 191.82, 192.19, 189.61, 191.67, 192.84, 191.35,
    192.12, 191.18, 191.89, 190.77, 192.46, 191.59, 191.94, 193.17, 191.26, 192.03,
    191.71, 192.78, 191.36, 191.99, 190.46, 192.24, 191.62, 191.08, 192.57, 190.91,
    192.33, 191.48, 190.62, 192.11, 191.76, 193.49, 191.21, 191.93, 192.42, 191.39,
    191.07, 192.19, 191.84, 190.83, 192.64, 191.52, 191.97, 189.89, 192.28, 191.73,
    192.51, 191.34, 191.92, 192.37, 190.59, 191.68, 192.86, 191.15, 191.81, 193.26,
    191.59, 190.74, 192.22, 191.43, 191.95, 192.63, 191.28, 190.37, 192.07, 191.86,
    192.41, 191.67, 190.96, 193.73, 191.39, 192.18, 191.82, 191.04, 192.49, 190.68,
    191.24, 192.06, 191.71, 191.97, 190.52, 192.34, 191.46, 192.77, 191.13, 191.88,
    192.59, 191.37, 192.13, 190.84, 191.92, 191.56, 193.41, 191.79, 190.41, 192.26,
    191.82, 192.44, 191.19, 191.67, 192.91, 190.73, 191.98, 191.32, 192.17, 189.52,
    190.98, 191.74, 192.36, 191.51, 191.89, 192.68, 191.23, 193.09, 191.61, 192.03,
    192.24, 191.42, 190.69, 192.57, 191.76, 191.13, 192.29, 191.87, 190.46, 193.57,
    191.53, 192.81, 191.94, 191.27, 190.87, 192.12, 191.68, 192.43, 191.09, 191.84,
    192.19, 191.36, 192.72, 190.58, 191.93, 191.49, 192.06, 193.24, 191.71, 190.92,
]

panel_labels = ["P1 /ns", "P2 /ns"]
median_texts = ["Median =  191.70 ns", "Median =  191.75 ns"]
ylims = [(187, 195), (185, 198)]
xlim = (60178, 60182)
xlabel = "MJD"

# ---------------- figure ----------------
fig = plt.figure(figsize=(7.66, 6.71), dpi=100)
ax1 = fig.add_axes([0.1097, 0.5795, 0.8575, 0.4025])
ax2 = fig.add_axes([0.1097, 0.0960, 0.8575, 0.4020])

for ax, yvals, lab, yl in zip((ax1, ax2), (p1_ns, p2_ns), panel_labels, ylims):
    ax.scatter(mjd, yvals, s=3.0, c="black", linewidths=0, zorder=2)
    ax.set_xlim(*xlim)
    ax.set_ylim(*yl)
    ax.xaxis.set_major_locator(MultipleLocator(2))
    ax.xaxis.set_minor_locator(MultipleLocator(1))
    ax.yaxis.set_major_locator(MultipleLocator(1))
    ax.yaxis.set_minor_locator(MultipleLocator(0.2))
    ax.xaxis.set_major_formatter(FormatStrFormatter("%d"))
    ax.yaxis.set_major_formatter(FormatStrFormatter("%d"))
    ax.tick_params(which="both", direction="out", top=True, right=True,
                   labeltop=False, labelright=False, width=0.9, colors="#222222",
                   labelcolor="black")
    ax.tick_params(which="major", length=5.5, labelsize=11.5, pad=2)
    ax.tick_params(axis="x", which="major", pad=6.5)
    ax.tick_params(which="minor", length=2.5)
    for sp in ax.spines.values():
        sp.set_linewidth(1.6)
        sp.set_color("black")
    ax.set_ylabel(lab, fontsize=16, labelpad=9)

ax1.text(0.078, 0.935, median_texts[0], transform=ax1.transAxes, color="blue",
         fontsize=12.5, fontweight="bold", ha="left", va="center")
ax2.text(0.078, 0.10, median_texts[1], transform=ax2.transAxes, color="blue",
         fontsize=12.5, fontweight="bold", ha="left", va="center")

ax2.set_xlabel(xlabel, fontsize=16, labelpad=3)

fig.savefig("out.png", dpi=100)
